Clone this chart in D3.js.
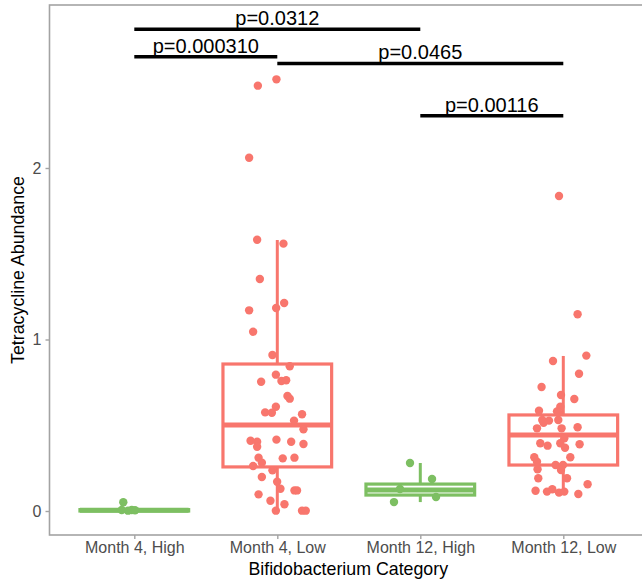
<!DOCTYPE html>
<html><head><meta charset="utf-8">
<script src="https://cdn.jsdelivr.net/npm/d3@7"></script>
<style>body{margin:0;background:#fff}svg{display:block}</style>
</head><body><svg id="c" width="642" height="584"></svg>
<script>
const categories = ["Month 4, High","Month 4, Low","Month 12, High","Month 12, Low"];
const groupColor = ["#7dbf62","#f8766d","#7dbf62","#f8766d"];
const yTicks = [0,1,2];

// box stats [lowWhisker, q1, median, q3, highWhisker]
const boxM4H = [0, 0, 0.004, 0.008, 0.01];
const boxM4L = [0, 0.257, 0.501, 0.857, 1.58];
const boxM12H = [0.052, 0.093, 0.122, 0.157, 0.28];
const boxM12L = [0.107, 0.268, 0.443, 0.56, 0.904];

// points: values and horizontal jitter (in category-step units)
const valM4H = [0.051, 0.006, 0.006, 0.002, 0.004];
const jitM4H = [-0.077, -0.088, -0.018, -0.044, 0.005];
const valM4L = [2.517,2.48,2.06,1.582,1.559,1.353,1.213,1.184,1.17,1.045,0.91,0.844,0.795,0.754,0.758,0.762,0.671,0.655,0.608,0.575,0.573,0.564,0.527,0.476,0.41,0.404,0.375,0.416,0.404,0.391,0.311,0.282,0.307,0.311,0.262,0.237,0.198,0.171,0.13,0.12,0.12,0.097,0.06,0.039,0.002,0.002,0.002];
const jitM4L = [-0.006,-0.136,-0.197,-0.141,0.043,-0.122,0.048,-0.008,-0.197,-0.169,-0.034,0.087,-0.010,-0.113,0.029,0.062,0.071,0.087,-0.010,-0.085,-0.038,0.173,0.117,0.183,-0.187,-0.141,-0.141,-0.006,0.097,0.183,-0.131,-0.108,0.038,0.120,-0.169,-0.034,-0.108,-0.001,0.022,0.120,0.138,-0.131,-0.048,0.050,-0.010,0.173,0.199];
const valM12H = [0.28, 0.187, 0.128, 0.082, 0.052];
const jitM12H = [-0.072, 0.082, -0.142, 0.11, -0.184];
const valM12L = [1.837,1.147,0.906,0.875,0.80,0.723,0.676,0.653,0.608,0.585,0.581,0.531,0.531,0.527,0.482,0.482,0.488,0.424,0.395,0.381,0.395,0.369,0.389,0.313,0.313,0.287,0.268,0.268,0.243,0.239,0.191,0.191,0.156,0.118,0.113,0.127,0.107,0.113,0.099,0.515,0.573];
const jitM12L = [-0.030,0.100,0.161,-0.072,0.110,-0.152,-0.016,0.077,-0.021,-0.170,-0.044,-0.035,-0.147,-0.100,-0.184,-0.012,0.100,0.007,-0.161,-0.110,-0.021,0.012,0.114,0.049,-0.203,-0.184,-0.054,-0.002,-0.180,-0.016,0.026,-0.175,0.170,-0.194,-0.114,-0.077,-0.030,0.007,0.105,-0.138,-0.035];

// significance brackets
const sigFrom = ["Month 4, High","Month 4, High","Month 4, Low","Month 12, High"];
const sigTo = ["Month 12, High","Month 4, Low","Month 12, Low","Month 12, Low"];
const sigY = [2.809, 2.649, 2.610, 2.305];
const sigLabel = ["p=0.0312","p=0.000310","p=0.0465","p=0.00116"];

const boxes = [boxM4H, boxM4L, boxM12H, boxM12L];
const vals = [valM4H, valM4L, valM12H, valM12L];
const jits = [jitM4H, jitM4L, jitM12H, jitM12L];

const svg = d3.select("#c");
const L = 48.5, T = 5, B = 535;
const x = d3.scalePoint().domain(categories).range([L, L + 600.6]).padding(0.6);
const step = x.step();
const y = d3.scaleLinear().domain([-0.13994, 2.9504]).range([B, T]);
const font = "'Liberation Sans', Arial, sans-serif";

// boxes
const bw = 0.76 * step;
categories.forEach((c, i) => {
  const s = boxes[i], cx = x(c), col = groupColor[i];
  const g = svg.append("g");
  g.append("line").attr("x1", cx).attr("x2", cx).attr("y1", y(s[3])).attr("y2", y(s[4]))
    .attr("stroke", col).attr("stroke-width", 3);
  g.append("line").attr("x1", cx).attr("x2", cx).attr("y1", y(s[1])).attr("y2", y(s[0]))
    .attr("stroke", col).attr("stroke-width", 3);
  g.append("rect").attr("x", cx - bw/2).attr("width", bw)
    .attr("y", y(s[3])).attr("height", Math.max(0, y(s[1]) - y(s[3])))
    .attr("fill", "#fff").attr("stroke", col).attr("stroke-width", 3.2);
  g.append("line").attr("x1", cx - bw/2).attr("x2", cx + bw/2).attr("y1", y(s[2])).attr("y2", y(s[2]))
    .attr("stroke", col).attr("stroke-width", 5);
});

// points
categories.forEach((c, i) => {
  svg.append("g").selectAll("circle").data(vals[i].map((v, k) => [v, jits[i][k]])).join("circle")
    .attr("cx", d => x(c) + d[1] * step).attr("cy", d => y(d[0])).attr("r", 4.2)
    .attr("fill", groupColor[i]);
});

// panel border (top, left, bottom; right edge is outside the view)
svg.append("rect").attr("x", 49.5).attr("y", T).attr("width", 640).attr("height", B - T)
  .attr("fill", "none").attr("stroke", "#a3a3a3").attr("stroke-width", 1.6);

// y axis
const ya = svg.append("g").attr("transform", `translate(${49.5},0)`)
  .call(d3.axisLeft(y).tickValues(yTicks).tickSize(4).tickPadding(4).tickFormat(d3.format("d")));
ya.select(".domain").remove();
ya.selectAll("line").attr("stroke", "#a3a3a3").attr("stroke-width", 1.4);
ya.selectAll("text").attr("font-family", font).attr("font-size", 16).attr("fill", "#4d4d4d");

// x axis
const xa = svg.append("g").attr("transform", `translate(0,${B})`)
  .call(d3.axisBottom(x).tickSize(4).tickPadding(3));
xa.select(".domain").remove();
xa.selectAll("line").attr("stroke", "#a3a3a3").attr("stroke-width", 1.4);
xa.selectAll("text").attr("font-family", font).attr("font-size", 16).attr("fill", "#4d4d4d");

// titles
svg.append("text").attr("x", (L + 642) / 2 + 3).attr("y", 575).attr("text-anchor", "middle")
  .attr("font-family", font).attr("font-size", 17.8).attr("fill", "#000").text("Bifidobacterium Category");
svg.append("text").attr("transform", `translate(24,${(T + B) / 2}) rotate(-90)`).attr("text-anchor", "middle")
  .attr("font-family", font).attr("font-size", 17.8).attr("fill", "#000").text("Tetracycline Abundance");

// significance brackets
sigLabel.forEach((lab, i) => {
  const x1 = x(sigFrom[i]), x2 = x(sigTo[i]), yy = y(sigY[i]);
  svg.append("line").attr("x1", x1).attr("x2", x2).attr("y1", yy).attr("y2", yy)
    .attr("stroke", "#000").attr("stroke-width", 3.5);
  svg.append("text").attr("x", (x1 + x2) / 2).attr("y", yy - 4).attr("text-anchor", "middle")
    .attr("font-family", font).attr("font-size", 20).attr("fill", "#000").text(lab);
});
</script></body></html>
